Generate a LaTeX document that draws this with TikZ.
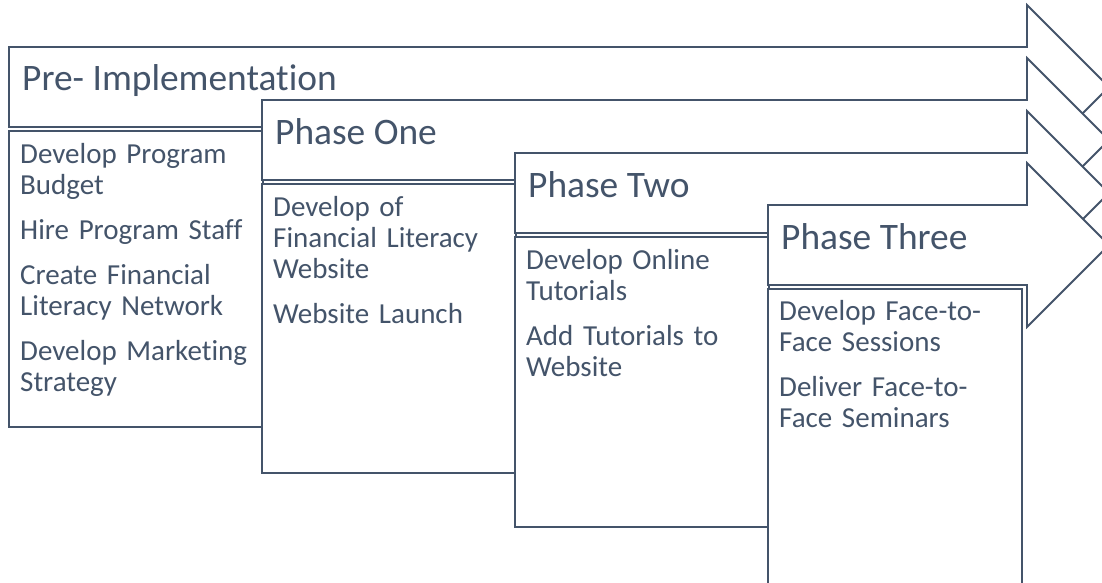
\documentclass[tikz,border=0pt]{standalone}
\usepackage{fontspec}
\setmainfont{Carlito}[Ligatures=NoCommon]
\usepackage{tikz}
\definecolor{slate}{HTML}{44546A}

\begin{document}
\begin{tikzpicture}[x=1pt, y=-1pt,
  block/.style={draw=slate, fill=white, line width=1.8pt, line join=miter},
  phase/.style={anchor=base west, inner sep=0pt, text=slate, font=\fontsize{37.4}{44}\selectfont},
  tasks/.style={anchor=base west, inner sep=0pt, text=slate, align=left, text width=245pt, font=\fontsize{29}{31.3}\selectfont}]
\useasboundingbox (0,0) rectangle (1102,583);
% one arrow and one task box per phase, each laid over the one before
\foreach \L/\T/\B in {9/47/427, 262/100/473, 515/153/527, 768/205/600} {
  \draw[block] (\L,\T) -- (1027,\T) -- (1027,\T-42) -- (1109,\T+40) -- (1027,\T+122) -- (1027,\T+80) -- (\L,\T+80) -- cycle;
  \draw[block] (\L,\T+84) rectangle (\L+254,\B);
}
\path
(22,91) node[phase] (pre) {Pre- Implementation};
\path
(275,144) node[phase] (one) {Phase One};
\path
(528,197) node[phase] (two) {Phase Two};
\path
(781,249) node[phase] (three) {Phase Three};
\path
(20,163) node[tasks] (preTasks) {Develop Program\\Budget\\[13.7pt]Hire Program Staff\\[13.7pt]Create Financial\\Literacy Network\\[13.7pt]Develop Marketing\\Strategy};
\path
(273,216) node[tasks] (oneTasks) {Develop of\\Financial Literacy\\Website\\[13.7pt]Website Launch};
\path
(526,269) node[tasks] (twoTasks) {Develop Online\\Tutorials\\[13.7pt]Add Tutorials to\\Website};
\path
(779,320) node[tasks] (threeTasks) {Develop Face-to-\\Face Sessions\\[13.7pt]Deliver Face-to-\\Face Seminars};
\end{tikzpicture}
\end{document}
